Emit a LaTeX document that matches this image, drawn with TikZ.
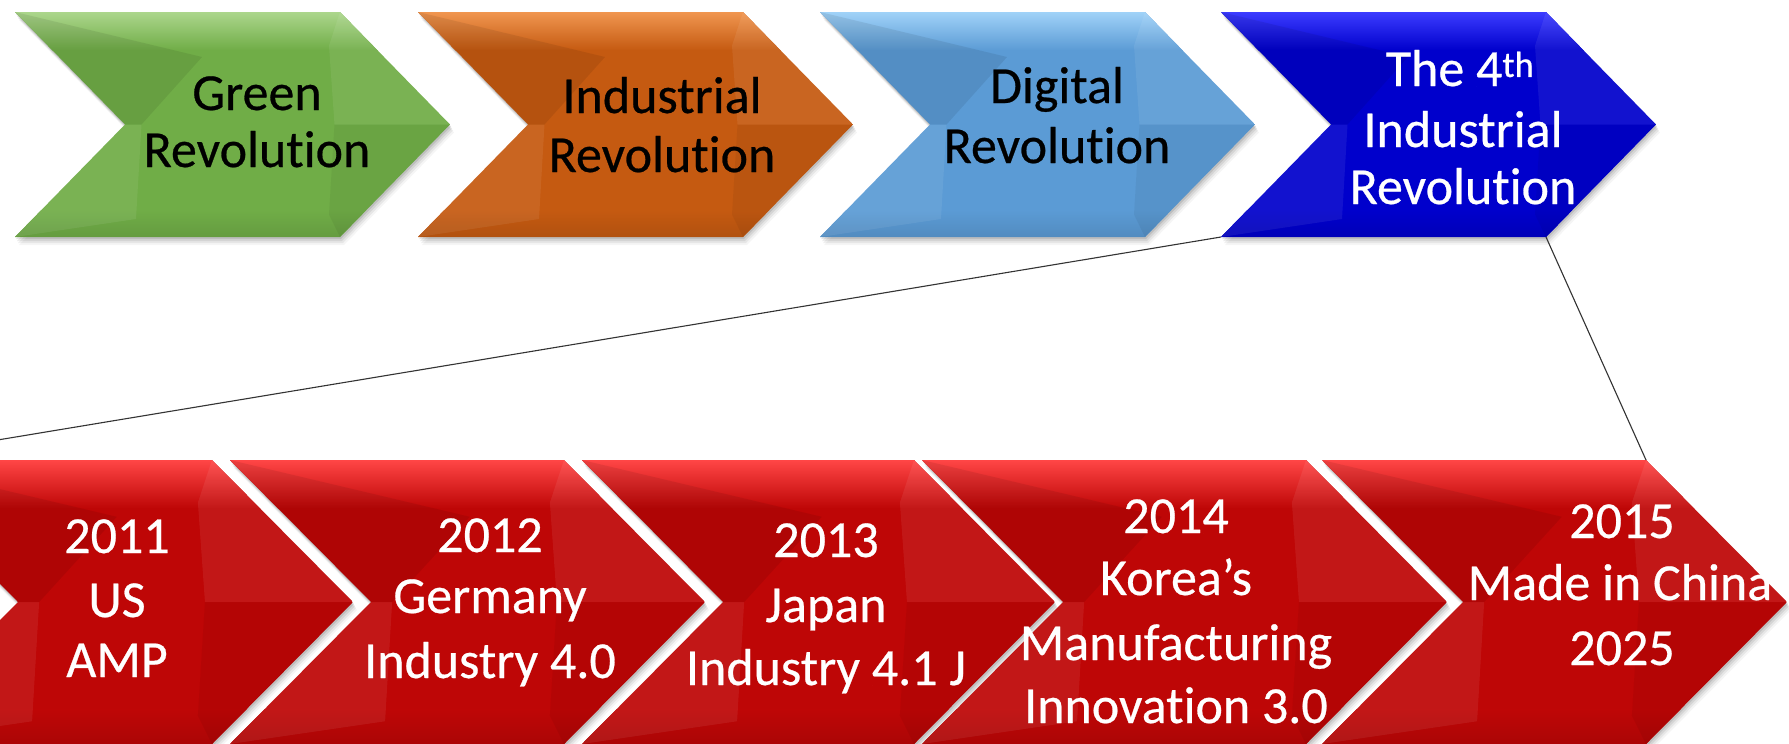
\documentclass[tikz,border=0pt]{standalone}
\usepackage{fontspec}
\setmainfont{Carlito}[Ligatures={NoCommon},FakeBold=0.5]
\usetikzlibrary{calc}
\definecolor{grn}{RGB}{112,173,71}
\definecolor{grnL}{RGB}{172,214,140}
\definecolor{org}{RGB}{197,90,17}
\definecolor{orgL}{RGB}{240,150,80}
\definecolor{blu}{RGB}{91,155,213}
\definecolor{bluL}{RGB}{160,210,248}
\definecolor{dbl}{RGB}{0,0,204}
\definecolor{dblL}{RGB}{60,60,255}
\definecolor{rd}{RGB}{190,6,6}
\definecolor{rdL}{RGB}{255,70,70}
\newcommand{\chev}[8]{%
 \pgfmathsetmacro{\cvl}{#2}\pgfmathsetmacro{\cvt}{-(#3)}%
 \pgfmathsetmacro{\cvw}{#4}\pgfmathsetmacro{\cvh}{#5}\pgfmathsetmacro{\cvd}{#6}%
 \pgfmathsetmacro{\cvb}{\cvt-\cvh}\pgfmathsetmacro{\cvm}{\cvt-\cvh/2}%
 \pgfmathsetmacro{\cvr}{\cvl+\cvw-\cvd}\pgfmathsetmacro{\cvx}{\cvl+\cvw}\pgfmathsetmacro{\cvn}{\cvl+\cvd}%
 \foreach \sx/\sy/\op in {1/-2/0.10,2/-4/0.08,3/-6/0.06,4/-8/0.04}{%
   \fill[black,opacity=\op,shift={(\sx,\sy)}] (\cvl,\cvt) -- (\cvr,\cvt) -- (\cvx,\cvm) -- (\cvr,\cvb) -- (\cvl,\cvb) -- (\cvn,\cvm) -- cycle;}
 \begin{scope}
  \clip (\cvl,\cvt) -- (\cvr,\cvt) -- (\cvx,\cvm) -- (\cvr,\cvb) -- (\cvl,\cvb) -- (\cvn,\cvm) -- cycle;
  \fill[#7] (\cvl,\cvt) rectangle (\cvx,\cvb);
  \shade[top color=#8, bottom color=#7] (\cvl,\cvt) rectangle (\cvx,\cvt-0.17*\cvh);
  \shade[top color=#7, bottom color=#7!90!black] (\cvl,\cvb+0.12*\cvh) rectangle (\cvx,\cvb);
  \fill[black,opacity=0.08] (\cvl,\cvt) -- (\cvn+0.7*\cvd,\cvt-0.2*\cvh) -- (\cvn+0.15*\cvd,\cvm) -- (\cvn,\cvm) -- cycle;
  \fill[white,opacity=0.07] (\cvn,\cvm) -- (\cvl,\cvb) -- (\cvn+0.1*\cvd,\cvb+0.08*\cvh) -- (\cvn+0.15*\cvd,\cvm) -- cycle;
  \fill[white,opacity=0.07] (\cvr,\cvt) -- (\cvx,\cvm) -- (\cvr-0.05*\cvd,\cvm) -- (\cvr-0.1*\cvd,\cvt-0.15*\cvh) -- cycle;
  \fill[black,opacity=0.05] (\cvx,\cvm) -- (\cvr,\cvb) -- (\cvr-0.1*\cvd,\cvb+0.1*\cvh) -- (\cvr-0.05*\cvd,\cvm) -- cycle;
 \end{scope}
 \coordinate (#1-lt) at (\cvl,\cvt);
 \coordinate (#1-tr) at (\cvr,\cvt);
 \coordinate (#1-tip) at (\cvx,\cvm);
 \coordinate (#1-br) at (\cvr,\cvb);
 \coordinate (#1-lb) at (\cvl,\cvb);
 \coordinate (#1-n) at (\cvn,\cvm);
}
\tikzset{
 lbl/.style={anchor=base, inner sep=0pt, font=\fontsize{52}{62}\selectfont},
 darklbl/.style={lbl, text=black},
 lightlbl/.style={lbl, text=white},
 link/.style={draw=black!80, line width=1.1pt}
}
\begin{document}
\begin{tikzpicture}[x=1pt,y=1pt]
\useasboundingbox (0,0) rectangle (1789,-744);
\clip (0,0) rectangle (1789,-744);
\fill[white] (0,0) rectangle (1789,-744);
% top row
\chev{g}{15}{12}{435}{225}{110}{grn}{grnL}
\chev{o}{418}{12}{435}{225}{110}{org}{orgL}
\chev{b}{820}{12}{435}{225}{110}{blu}{bluL}
\chev{db}{1221}{12}{435}{225}{110}{dbl}{dblL}
% bottom row
\chev{r1}{-123}{460}{476}{284}{141}{rd}{rdL}
\chev{r2}{230}{460}{475}{284}{141}{rd}{rdL}
\chev{r3}{582}{460}{473}{284}{141}{rd}{rdL}
\chev{r4}{922}{460}{525}{284}{141}{rd}{rdL}
\chev{r5}{1322}{460}{465}{284}{141}{rd}{rdL}
% connectors
\draw[link] (db-lb) -- (r1-lt);
\draw[link] (db-br) -- (r5-tr);
% top labels
\node[darklbl] (g1) at (257,-110) {Green};
\node[darklbl] (g2) at (257,-167) {Revolution};
\node[darklbl] (o1) at (662,-113) {Industrial};
\node[darklbl] (o2) at (662,-172) {Revolution};
\node[darklbl] (b1) at (1057,-103) {Digital};
\node[darklbl] (b2) at (1057,-163) {Revolution};
\node[lightlbl] (d1) at (1460,-86) {The 4\textsuperscript{th}};
\node[lightlbl] (d2) at (1463,-147) {Industrial};
\node[lightlbl] (d3) at (1463,-204) {Revolution};
% bottom labels
\node[lightlbl] (a1) at (117,-553) {2011};
\node[lightlbl] (a2) at (117,-617) {US};
\node[lightlbl] (a3) at (117,-677) {AMP};
\node[lightlbl] (c1) at (490,-552) {2012};
\node[lightlbl] (c2) at (490,-613) {Germany};
\node[lightlbl] (c3) at (490,-678) {Industry 4.0};
\node[lightlbl] (e1) at (826,-557) {2013};
\node[lightlbl] (e2) at (826,-622) {Japan};
\node[lightlbl] (e3) at (826,-685) {Industry 4.1 J};
\node[lightlbl] (k1) at (1176,-533) {2014};
\node[lightlbl] (k2) at (1176,-595) {Korea’s};
\node[lightlbl] (k3) at (1176,-660) {Manufacturing};
\node[lightlbl] (k4) at (1176,-723) {Innovation 3.0};
\node[lightlbl] (m1) at (1622,-538) {2015};
\node[lightlbl] (m2) at (1620,-600) {Made in China};
\node[lightlbl] (m3) at (1622,-665) {2025};
\end{tikzpicture}
\end{document}
